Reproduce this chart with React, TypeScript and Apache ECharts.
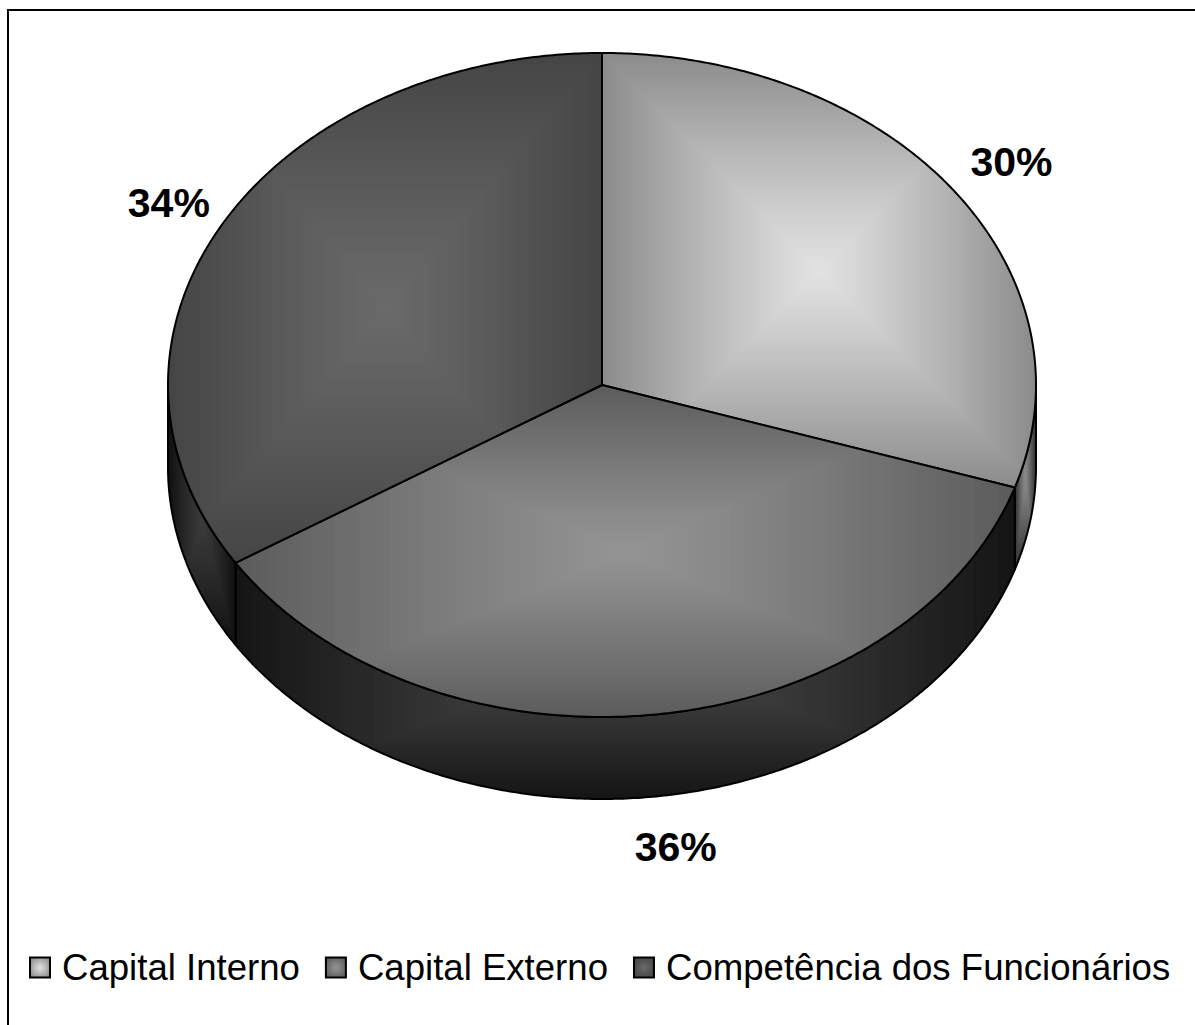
import React, { useEffect, useRef } from "react";
import * as echarts from "echarts";

const CATEGORIES = ["Capital Interno", "Capital Externo", "Competência dos Funcionários"];
const VALUES = [30, 36, 34];
const TOP_CENTER = ["#e2e2e2", "#949494", "#6a6a6a"];
const TOP_EDGE = ["#8c8c8c", "#5c5c5c", "#454545"];
const SIDE_CENTER = ["#8c8c8c", "#4c4c4c", "#3c3c3c"];
const SIDE_EDGE = ["#2e2e2e", "#151515", "#111111"];
const LABEL_NUDGE = [[5, -1], [11, 5], [5, 0]];

const CX = 602, CY = 385, RX = 434, RY = 332, DEPTH = 82;
const LABEL_RX = 500, LABEL_RY = 378;
const STEPS = 48;

const total = VALUES.reduce((a, b) => a + b, 0);
const hex = (c: string) => [1, 3, 5].map((i) => parseInt(c.slice(i, i + 2), 16));
const mix = (a: string, b: string, t: number) => {
  const x = hex(a), y = hex(b);
  return `rgb(${x.map((v, i) => Math.round(v + (y[i] - v) * t)).join(",")})`;
};
const pt = (deg: number, dy = 0) => {
  const r = (deg * Math.PI) / 180;
  return [CX + RX * Math.sin(r), CY - RY * Math.cos(r) + dy];
};
const arc = (a: number, b: number, dy = 0) => {
  const out: number[][] = [];
  const n = Math.max(2, Math.ceil(Math.abs(b - a) * 2));
  for (let i = 0; i <= n; i++) out.push(pt(a + ((b - a) * i) / n, dy));
  return out;
};

function burst(points: number[][], c0: string, c1: string, key: string) {
  const xs = points.map((p) => p[0]), ys = points.map((p) => p[1]);
  const x0 = Math.min(...xs), x1 = Math.max(...xs), y0 = Math.min(...ys), y1 = Math.max(...ys);
  const mx = (x0 + x1) / 2, my = (y0 + y1) / 2;
  const w = x1 - x0, h = y1 - y0;
  const children: any[] = [];
  for (let i = STEPS; i >= 1; i--) {
    const t = i / STEPS;
    children.push({
      type: "rect",
      shape: { x: mx - (w * t) / 2, y: my - (h * t) / 2, width: w * t, height: h * t },
      style: { fill: mix(c0, c1, Math.pow(t, 1.15)) },
    });
  }
  return [
    { type: "group", name: key, clipPath: { type: "polygon", shape: { points } }, children },
    { type: "polygon", shape: { points }, style: { fill: "none", stroke: "#000", lineWidth: 2, lineJoin: "round" } },
  ];
}

function makeRender(idx: number) {
  return () => {
    const start = (VALUES.slice(0, idx).reduce((a, b) => a + b, 0) / total) * 360;
    const end = start + (VALUES[idx] / total) * 360;
    const children: any[] = [];
    const sa = Math.max(start, 90), sb = Math.min(end, 270);
    if (sb > sa) {
      const side = [...arc(sa, sb), ...arc(sb, sa, DEPTH)];
      children.push(...burst(side, SIDE_CENTER[idx], SIDE_EDGE[idx], "side"));
    }
    const top = [[CX, CY], ...arc(start, end)];
    children.push(...burst(top, TOP_CENTER[idx], TOP_EDGE[idx], "top"));
    const mid = (((start + end) / 2) * Math.PI) / 180;
    const c = Math.cos(mid);
    children.push({
      type: "text",
      style: {
        x: CX + LABEL_RX * Math.sin(mid) + LABEL_NUDGE[idx][0],
        y: CY - LABEL_RY * c + (c < -0.5 ? DEPTH : 0) + LABEL_NUDGE[idx][1],
        text: `${Math.round((VALUES[idx] / total) * 100)}%`,
        font: 'bold 41px "Liberation Sans", Arial, sans-serif',
        fill: "#000",
        align: "center",
        verticalAlign: "middle",
      },
    });
    return { type: "group", children };
  };
}

export default function App() {
  const ref = useRef<HTMLDivElement>(null);
  useEffect(() => {
    const chart = echarts.init(ref.current!, null, { renderer: "svg" });
    chart.setOption({
      animation: false,
      backgroundColor: "#fff",
      legend: {
        left: 24,
        top: 944,
        orient: "horizontal",
        icon: "rect",
        itemWidth: 20,
        itemHeight: 20,
        itemGap: 25,
        selectedMode: false,
        textStyle: { fontFamily: '"Liberation Sans", Arial, sans-serif', fontSize: 36.6, color: "#000", padding: [0, 0, 0, 7] },
        data: CATEGORIES.map((name, i) => ({
          name,
          itemStyle: {
            color: {
              type: "radial", x: 0.5, y: 0.5, r: 0.6,
              colorStops: [{ offset: 0, color: TOP_CENTER[i] }, { offset: 1, color: TOP_EDGE[i] }],
            },
            borderColor: "#000",
            borderWidth: 2,
          },
        })),
      },
      graphic: [
        { type: "line", shape: { x1: 8, y1: 10, x2: 1195, y2: 10 }, style: { stroke: "#000", lineWidth: 2 } },
        { type: "line", shape: { x1: 8, y1: 9, x2: 8, y2: 1025 }, style: { stroke: "#000", lineWidth: 2 } },
      ],
      series: CATEGORIES.map((name, i) => ({
        type: "custom",
        name,
        coordinateSystem: "none",
        clip: false,
        silent: true,
        itemStyle: { color: TOP_CENTER[i] },
        data: [VALUES[i]],
        renderItem: makeRender(i),
      })),
    });
    return () => chart.dispose();
  }, []);
  return <div ref={ref} style={{ position: "fixed", left: 0, top: 0, width: 1195, height: 1025 }} />;
}
